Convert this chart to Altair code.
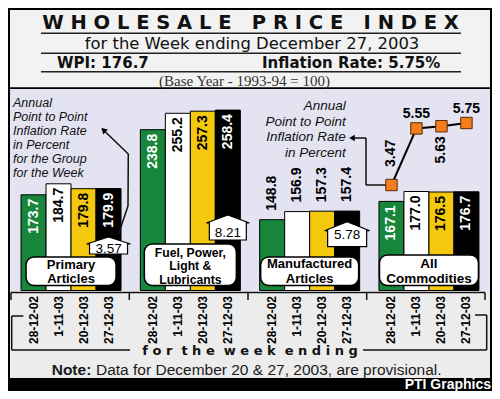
import altair as alt
import pandas as pd

# ---------------- data ----------------
groups = ["Primary Articles", "Fuel, Power, Light & Lubricants",
          "Manufactured Articles", "All Commodities"]
group_lines = [["Primary", "Articles"], ["Fuel, Power,", "Light &", "Lubricants"],
               ["Manufactured", "Articles"], ["All", "Commodities"]]
dates = ["28-12-02", "1-11-03", "20-12-03", "27-12-03"]
primary = [173.7, 184.7, 179.8, 179.9]
fuel = [238.8, 255.2, 257.3, 258.4]
manufactured = [148.8, 156.9, 157.3, 157.4]
all_commodities = [167.1, 177.0, 176.5, 176.7]
group_inflation = [3.57, 8.21, 5.78]
overall_inflation = [3.47, 5.55, 5.63, 5.75]

GREEN = "#17863b"
YELLOW = "#f4c80c"
ORANGE = "#f47d1e"
SANS = "Liberation Sans, Arial, sans-serif"
WIDE = "DejaVu Sans, Verdana, sans-serif"
NB = "\u00a0"

rows = []
for g, vals in zip(groups, [primary, fuel, manufactured, all_commodities]):
    for d, v in zip(dates, vals):
        rows.append({"group": g, "date": d, "value": v})
bar_df = pd.DataFrame(rows)
infl_df = pd.DataFrame({"group": groups[3], "date": dates, "rate": overall_inflation,
                        "idx": list(range(len(dates)))})
box_df = pd.DataFrame({"group": groups[:3], "date": dates[3], "rate": group_inflation})
one = pd.DataFrame({"k": [0]})

X = alt.X("group:N", sort=groups, axis=None,
          scale=alt.Scale(domain=groups, paddingInner=0.162, paddingOuter=0.1094))
XO = alt.XOffset("date:N", sort=dates,
                 scale=alt.Scale(domain=dates, paddingInner=0, paddingOuter=0))
YP = alt.Y("value:Q", axis=None,
           scale=alt.Scale(domain=[78, 260], range=[282.5, 100.5], zero=False, nice=False))
YR = alt.Y("rate:Q", axis=None,
           scale=alt.Scale(domain=[3.47, 5.75], range=[177, 115], zero=False, nice=False))


def rect(x, y, x2, y2, color):
    return alt.Chart(one).mark_rect(color=color).encode(
        x=alt.value(x), x2=alt.value(x2), y=alt.value(y), y2=alt.value(y2))


def seg(x, y, x2, y2, w=1.5, color="#111111"):
    return alt.Chart(one).mark_rule(color=color, strokeWidth=w).encode(
        x=alt.value(x), x2=alt.value(x2), y=alt.value(y), y2=alt.value(y2))


def txt(x, y, text, **kw):
    return alt.Chart(one).mark_text(text=text, **kw).encode(x=alt.value(x), y=alt.value(y))


def house(W, H, R, E):
    s = W / 2.0
    bl, br = -(W / 2 - E) / s, (W / 2 - E) / s
    top, eave, bot = -H / 2 / s, (-H / 2 + R) / s, H / 2 / s
    return (f"M{bl:.3f},{bot:.3f} L{bl:.3f},{eave:.3f} L-1,{eave:.3f} L0,{top:.3f} "
            f"L1,{eave:.3f} L{br:.3f},{eave:.3f} L{br:.3f},{bot:.3f} Z")


layers = []
# panels
layers += [rect(2, 2, 482, 79.3, "#f2f2f2"),
           rect(2, 81, 482, 283, "#e3e3f1"),
           rect(2, 283, 482, 370, "#ececec")]
# title panel rules
for yy in [25.3, 45.3, 63.7]:
    layers.append(seg(33, yy, 453, yy, 1.6, "#222222"))

title = (NB * 3).join(NB.join(w) for w in ["WHOLESALE", "PRICE", "INDEX"])
layers += [
    txt(242.5, 21, title, font=WIDE, fontSize=19.5, fontWeight="bold", align="center",
        baseline="alphabetic", color="#111111"),
    txt(244, 41, "for the Week ending December 27, 2003", font=WIDE, fontSize=16.4,
        align="center", baseline="alphabetic", color="#111111"),
    txt(49, 60, "WPI: 176.7", font=WIDE, fontSize=15, fontWeight="bold", align="left",
        baseline="alphabetic", color="#111111"),
    txt(254, 60, "Inflation Rate: 5.75%", font=WIDE, fontSize=15, fontWeight="bold",
        align="left", baseline="alphabetic", color="#111111"),
    txt(236.5, 77.5, "(Base Year - 1993-94 = 100)", font="Liberation Serif, Times New Roman, serif",
        fontSize=15, align="center", baseline="alphabetic", color="#333333"),
]

# axis line and ticks
layers.append(seg(3, 284.5, 477, 284.5, 1.5))
for xx in [3, 121.3, 240, 358.7, 477]:
    layers.append(seg(xx, 284.5, xx, 292, 1.5))

# bars
layers.append(alt.Chart(bar_df).mark_bar(stroke="black", strokeWidth=1).encode(
    x=X, xOffset=XO, y=YP, y2=alt.datum(78),
    color=alt.Color("date:N", legend=None,
                    scale=alt.Scale(domain=dates, range=[GREEN, "white", YELLOW, "black"]))))
layers.append(alt.Chart(bar_df).transform_filter(alt.datum.group != groups[2]).mark_text(
    angle=270, align="right", baseline="middle", dx=-4, font=SANS, fontSize=14,
    fontWeight="bold").encode(
    x=X, xOffset=XO, y=YP, text=alt.Text("value:Q", format=".1f"),
    color=alt.Color("date:N", legend=None,
                    scale=alt.Scale(domain=dates, range=["white", "black", "black", "white"]))))
layers.append(alt.Chart(bar_df).transform_filter(alt.datum.group == groups[2]).mark_text(
    angle=270, align="left", baseline="middle", dx=9, font=SANS, fontSize=14,
    fontWeight="bold", color="black").encode(
    x=X, xOffset=XO, y=YP, text=alt.Text("value:Q", format=".1f")))

# left annotation arrow (drawn under the boxes)
layers += [seg(110.5, 226, 120, 198, 1.5), seg(120, 198, 120.3, 146, 1.5),
           seg(120.3, 146, 97, 123.5, 1.5)]
layers.append(alt.Chart(one).mark_point(shape="triangle-up", size=45, filled=True,
                                        color="black", opacity=1, angle=314).encode(
    x=alt.value(95.5), y=alt.value(122)))

# category boxes: (box width, box top, first baseline, line height, font size)
box_dims = [(90, 249, 260.6, 14.6, 13), (92, 236, 248.6, 13.6, 12.2),
            (98, 249, 260.4, 14.6, 13), (99, 247, 259.6, 15.1, 13.5)]
for g, lines, (w, top, base, lh, fs) in zip(groups, group_lines, box_dims):
    gdf = pd.DataFrame({"group": [g]})
    layers.append(alt.Chart(gdf).mark_bar(width=w, cornerRadius=8, fill="white",
                                          stroke="black", strokeWidth=1.5).encode(
        x=X, y=alt.value(top), y2=alt.value(277.5)))
    layers.append(alt.Chart(gdf).mark_text(text=lines, lineHeight=lh, align="center",
                                           baseline="top", font=SANS, fontSize=fs,
                                           fontWeight="bold", color="black").encode(
        x=X, y=alt.value(base - round(0.79 * fs))))

# group inflation "arrow" boxes
house_dims = [((44, 17, 7, 3), 237.5, 244.7), ((43, 25, 8, 3), 219.5, 228.7),
              ((45, 25, 9, 3), 226.2, 231.3)]
for i, ((W, H, R, E), cy, base) in enumerate(house_dims):
    sub = box_df.iloc[[i]]
    layers.append(alt.Chart(sub).mark_point(shape=house(W, H, R, E), size=W * W, filled=True,
                                            fill="white", stroke="black", strokeWidth=1.2,
                                            opacity=1).encode(
        x=X, xOffset=XO, y=alt.value(cy)))
    layers.append(alt.Chart(sub).mark_text(font=SANS, fontSize=13.5, align="center",
                                           baseline="alphabetic", color="black").encode(
        x=X, xOffset=XO, y=alt.value(base), text=alt.Text("rate:Q", format=".2f")))

# annotation texts
layers.append(txt(5, 98.5 - 10, ["Annual", "Point to Point", "Inflation Rate", "in Percent",
                                 "for the Group", "for the Week"],
                  font=SANS, fontSize=12.5, fontStyle="italic", align="left", baseline="top",
                  lineHeight=14, color="#111111"))
layers.append(txt(337.7, 102 - 11, ["Annual", "Point to Point", "Inflation Rate", "in Percent"],
                  font=SANS, fontSize=13.5, fontStyle="italic", align="right", baseline="top",
                  lineHeight=15.7, color="#111111"))
# right annotation connector
layers += [seg(382, 177, 358, 177, 1.5), seg(358, 177, 358, 130, 1.5),
           seg(358, 130, 346, 130, 1.5)]
layers.append(alt.Chart(one).mark_point(shape="triangle-left", size=40, filled=True,
                                        color="black", opacity=1).encode(
    x=alt.value(344), y=alt.value(130)))

# overall inflation line
layers.append(alt.Chart(infl_df).mark_line(color="black", strokeWidth=2).encode(
    x=X, xOffset=XO, y=YR, order="idx:Q"))
layers.append(alt.Chart(infl_df).mark_point(shape="square", size=130, filled=True,
                                            fill=ORANGE, stroke="#5a2a00", strokeWidth=1,
                                            opacity=1).encode(x=X, xOffset=XO, y=YR))
lab = alt.Text("rate:Q", format=".2f")
lbl_kw = dict(font=SANS, fontSize=14, fontWeight="bold", color="black")
layers.append(alt.Chart(infl_df).transform_filter(alt.datum.date == dates[0]).mark_text(
    angle=270, align="left", baseline="middle", dx=18, **lbl_kw).encode(
    x=X, xOffset=XO, y=YR, text=lab))
layers.append(alt.Chart(infl_df).transform_filter(alt.datum.date == dates[2]).mark_text(
    angle=270, align="right", baseline="middle", dx=-10, **lbl_kw).encode(
    x=X, xOffset=XO, y=YR, text=lab))
layers.append(alt.Chart(infl_df).transform_filter(
    (alt.datum.date == dates[1]) | (alt.datum.date == dates[3])).mark_text(
    align="center", baseline="alphabetic", dy=-10, **lbl_kw).encode(
    x=X, xOffset=XO, y=YR, text=lab))

# date labels
layers.append(alt.Chart(bar_df).mark_text(angle=270, align="right", baseline="middle",
                                          font=SANS, fontSize=12, fontWeight="bold",
                                          color="black").encode(
    x=X, xOffset=XO, y=alt.value(288), text="date:N"))

# bracket
layers += [seg(3.7, 308, 15.3, 308), seg(3.7, 308, 3.7, 342), seg(3.7, 342, 122, 342),
           seg(355, 342, 478.7, 342), seg(478.7, 307, 478.7, 342), seg(467, 307, 478.7, 307)]
week = (NB * 2).join(NB.join(w) for w in ["for", "the", "week", "ending"])
layers.append(txt(242, 347, week, font=WIDE, fontSize=13, fontWeight="bold", align="center",
                  baseline="alphabetic", color="#111111"))
layers.append(txt(43.7, 367, "Note:", font=SANS, fontSize=15.5, fontWeight="bold",
                  align="left", baseline="alphabetic", color="#1a1a1a"))
layers.append(txt(88, 367, "Data for December 20 & 27, 2003, are provisional.", font=SANS,
                  fontSize=15.5, align="left", baseline="alphabetic", color="#1a1a1a"))
layers.append(txt(483, 381, "PTI Graphics", font=SANS, fontSize=14, fontWeight="bold",
                  align="right", baseline="alphabetic", color="white"))

chart = alt.layer(*layers).resolve_scale(y="independent", color="independent").properties(
    width=484, height=383, padding=0, autosize="none", background="black"
).configure_view(stroke=None)

chart.save("out.html", embed_options={"renderer": "svg", "actions": False})
